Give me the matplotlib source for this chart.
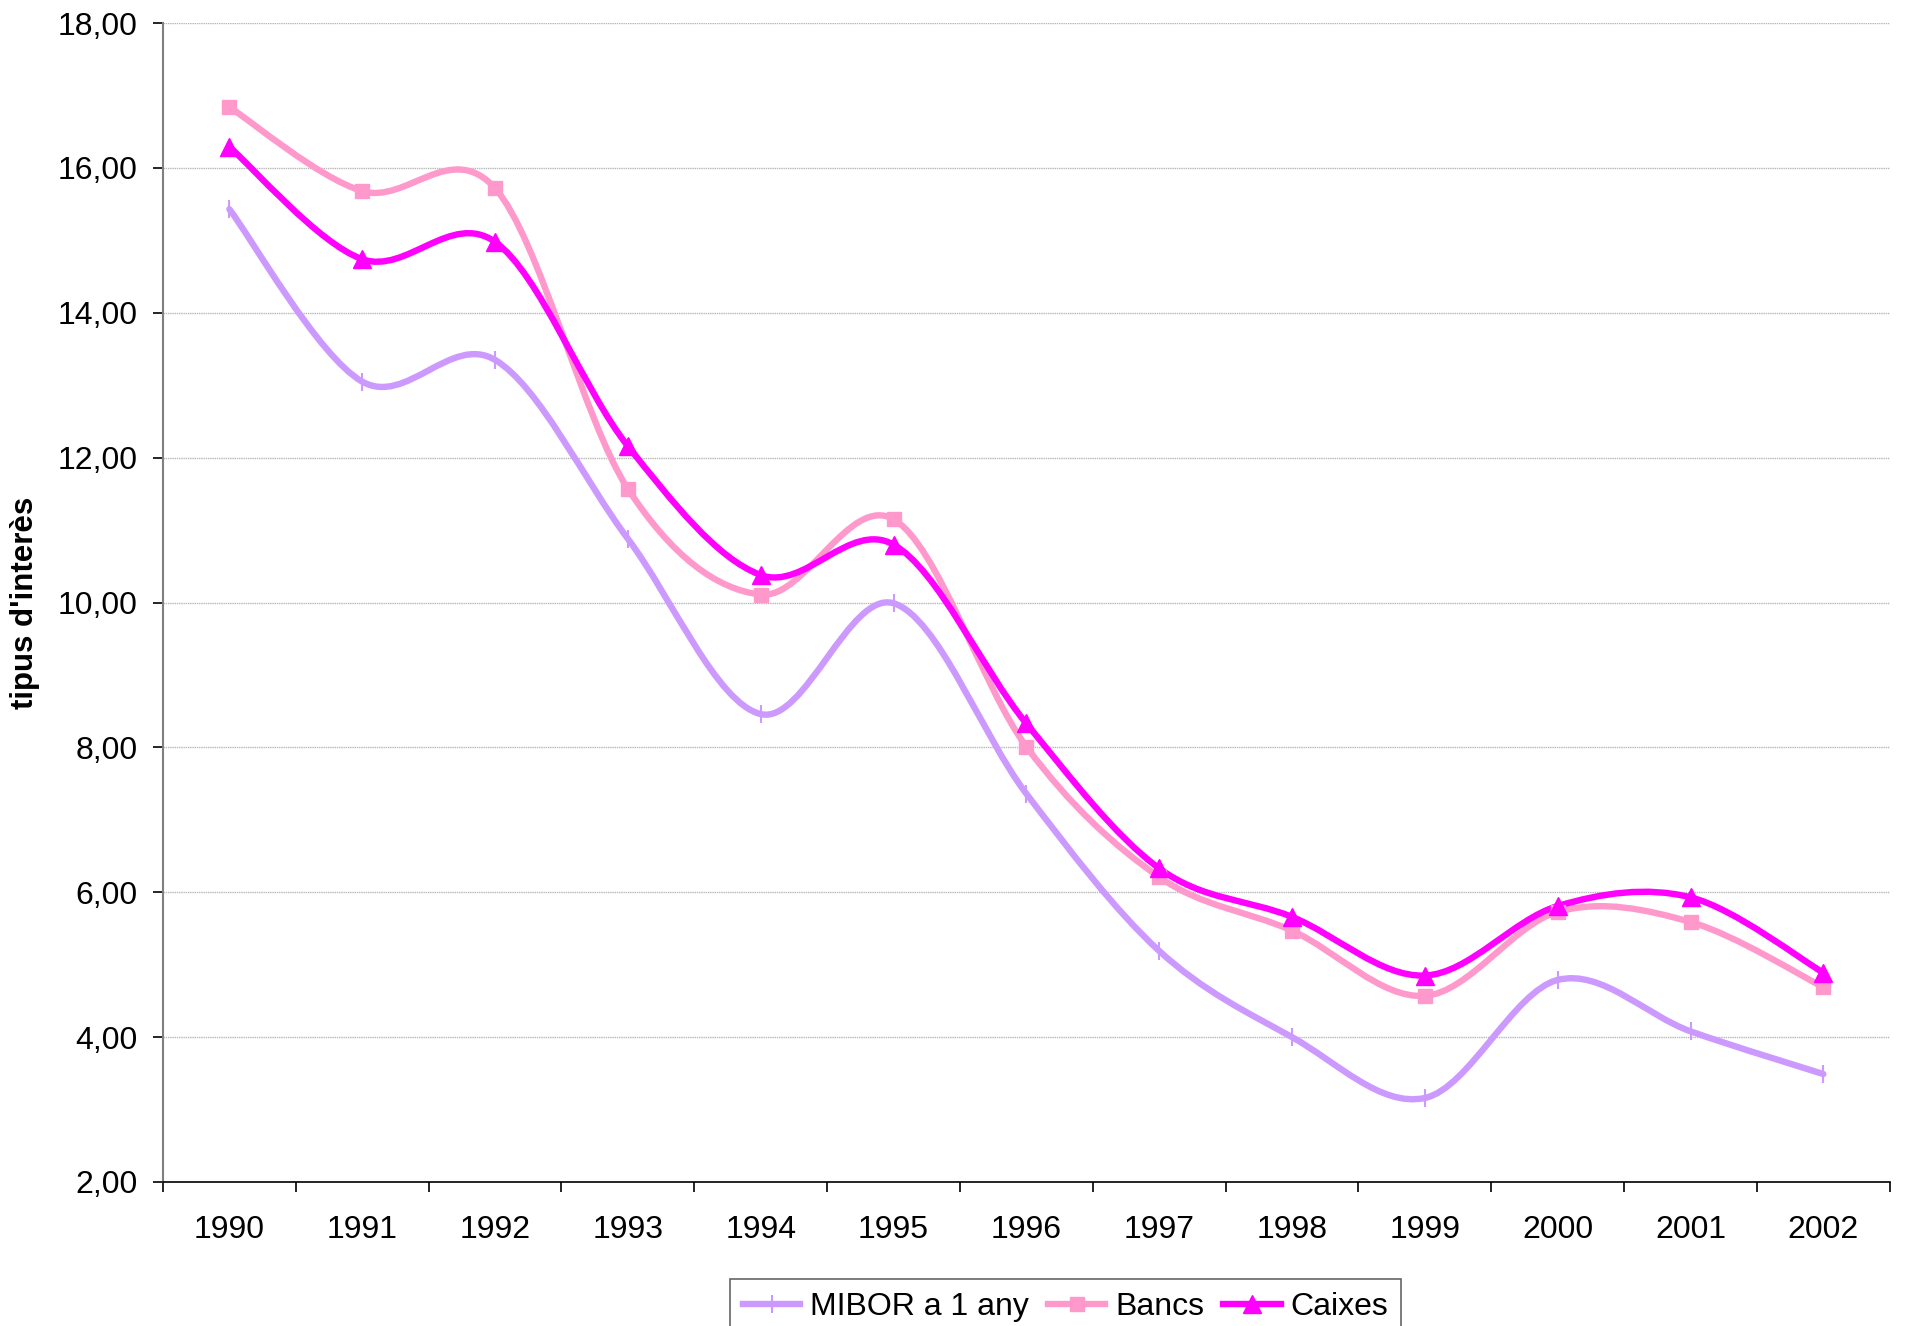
import matplotlib
matplotlib.use('Agg')
import matplotlib.pyplot as plt
import numpy as np
from matplotlib.path import Path
from matplotlib.patches import PathPatch
from matplotlib.lines import Line2D
from matplotlib.ticker import FuncFormatter

plt.rcParams['font.family'] = ['Liberation Sans', 'DejaVu Sans']

years = ['1990', '1991', '1992', '1993', '1994', '1995', '1996',
         '1997', '1998', '1999', '2000', '2001', '2002']
mibor = [15.43, 13.05, 13.35, 10.88, 8.46, 9.99, 7.36, 5.19, 4.00, 3.16, 4.79, 4.08, 3.49]
bancs = [16.84, 15.68, 15.72, 11.57, 10.11, 11.15, 8.01, 6.21, 5.47, 4.57, 5.73, 5.59, 4.69]
caixes = [16.29, 14.74, 14.98, 12.16, 10.38, 10.80, 8.33, 6.33, 5.66, 4.85, 5.81, 5.93, 4.89]

series = [
    ('MIBOR a 1 any', mibor, '#CC99FF', '|', 13, 1.5),
    ('Bancs', bancs, '#FF99CC', 's', 10, 1),
    ('Caixes', caixes, '#FF00FF', '^', 12.5, 1),
]


def smooth_path(xs, ys):
    # corba suavitzada tipus Excel (bezier Catmull-Rom)
    pts = np.column_stack([xs, ys]).astype(float)
    n = len(pts)
    verts = [pts[0]]
    codes = [Path.MOVETO]
    for i in range(n - 1):
        p0 = pts[max(i - 1, 0)]
        p1 = pts[i]
        p2 = pts[i + 1]
        p3 = pts[min(i + 2, n - 1)]
        verts += [p1 + (p2 - p0) / 6, p2 - (p3 - p1) / 6, p2]
        codes += [Path.CURVE4] * 3
    return Path(verts, codes)


fig = plt.figure(figsize=(19.06, 13.26), dpi=100)
ax = fig.add_axes([0.0855, 0.1086, 0.906, 0.874])

lw = 4.6
x = np.arange(len(years))
handles = []
for name, vals, col, mk, ms, mew in series:
    ax.add_patch(PathPatch(smooth_path(x, vals), fill=False, ec=col, lw=lw,
                           capstyle='round', joinstyle='round', zorder=3))
    ax.plot(x, vals, ls='none', marker=mk, ms=ms, color=col, mec=col,
            mew=mew, zorder=4)
    handles.append(Line2D([], [], color=col, lw=lw, marker=mk, ms=ms, mec=col,
                          mew=mew))

ax.set_xlim(-0.5, len(years) - 0.5)
ax.set_ylim(2, 18)
ax.set_yticks(np.arange(2, 19, 2))
ax.yaxis.set_major_formatter(FuncFormatter(lambda v, p: '{:.2f}'.format(v).replace('.', ',')))
ax.grid(axis='y', color='#b8b8b8', lw=1.0, ls=(0, (1, 0.6)))
ax.set_axisbelow(True)

ax.set_xticks(np.arange(-0.5, len(years), 1))
ax.set_xticklabels([])
ax.set_xticks(x, minor=True)
ax.set_xticklabels(years, minor=True)
ax.tick_params(axis='x', which='major', direction='out', length=7, width=1.2, color='black')
ax.tick_params(axis='x', which='minor', length=0, pad=24, labelsize=23)
ax.tick_params(axis='y', direction='out', length=7, width=1.2, pad=11, labelsize=23)

for s in ['top', 'right']:
    ax.spines[s].set_visible(False)
ax.spines['left'].set_color('#808080')
ax.spines['left'].set_linewidth(1.5)
ax.spines['bottom'].set_color('black')
ax.spines['bottom'].set_linewidth(1.2)

ax.set_ylabel("tipus d'interès", fontsize=22.5, fontweight='bold')
ax.yaxis.set_label_coords(-0.071, 0.5)

leg = fig.legend(handles, [s[0] for s in series], loc='upper center',
                 bbox_to_anchor=(0.559, 1 - 1279 / 1326), ncol=3, fontsize=23,
                 frameon=True, fancybox=False, edgecolor='#404040',
                 handlelength=1.8, handletextpad=0.3, columnspacing=0.6,
                 borderpad=0.4, borderaxespad=0)
leg.get_frame().set_linewidth(1.2)

fig.savefig('out.png', dpi=100)
